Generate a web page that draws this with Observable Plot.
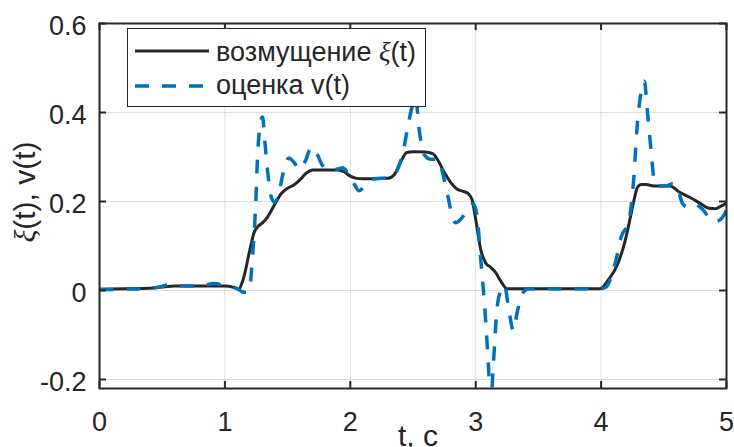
<!DOCTYPE html>
<html>
<head>
<meta charset="utf-8">
<script src="https://cdn.jsdelivr.net/npm/d3@7"></script>
<script src="https://cdn.jsdelivr.net/npm/@observablehq/plot@0.6"></script>
<style>
  html, body { margin: 0; padding: 0; background: #fff; }
  #chart { position: relative; width: 734px; height: 447px; overflow: hidden;
           font-family: "Liberation Sans", Arial, sans-serif; color: #262626; }
  #chart > svg { display: block; }
  #legend { position: absolute; left: 127px; top: 28px; }
</style>
</head>
<body>
<div id="chart"></div>
<script>
// Disturbance ξ(t): time samples and values
const xiT = [0, 0.2, 0.4, 0.5, 0.6, 0.8, 1.0, 1.07, 1.11, 1.14, 1.164, 1.19, 1.21, 1.23, 1.26, 1.30,
  1.34, 1.39, 1.45, 1.50, 1.55, 1.60, 1.65, 1.70, 1.80, 1.90, 1.95, 2.00, 2.05, 2.10, 2.20, 2.30,
  2.35, 2.40, 2.45, 2.50, 2.60, 2.66, 2.70, 2.75, 2.80, 2.85, 2.90, 2.94, 2.97, 3.00, 3.04, 3.08,
  3.12, 3.16, 3.20, 3.25, 3.40, 3.70, 3.99, 4.06, 4.13, 4.19, 4.23, 4.26, 4.29, 4.32, 4.36, 4.42,
  4.55, 4.62, 4.71, 4.79, 4.86, 4.91, 4.96, 5.0];
const xiV = [0.003, 0.004, 0.005, 0.008, 0.010, 0.010, 0.010, 0.007, 0.003, 0.02, 0.045, 0.08, 0.105, 0.128, 0.143, 0.152,
  0.165, 0.19, 0.218, 0.23, 0.237, 0.249, 0.264, 0.271, 0.271, 0.271, 0.267, 0.257, 0.252, 0.251, 0.251, 0.252,
  0.26, 0.288, 0.31, 0.312, 0.311, 0.307, 0.292, 0.265, 0.243, 0.228, 0.223, 0.218, 0.205, 0.16, 0.092, 0.062,
  0.052, 0.04, 0.021, 0.004, 0.004, 0.004, 0.004, 0.025, 0.058, 0.11, 0.16, 0.2, 0.232, 0.238, 0.238, 0.235,
  0.235, 0.222, 0.209, 0.196, 0.185, 0.184, 0.19, 0.196];

// Estimate v(t): time samples and values
const vT = [0, 0.2, 0.4, 0.5, 0.56, 0.62, 0.8, 0.92, 0.98, 1.05, 1.10, 1.15, 1.18, 1.20, 1.22, 1.245,
  1.26, 1.28, 1.30, 1.32, 1.34, 1.37, 1.40, 1.43, 1.47, 1.51, 1.55, 1.60, 1.64, 1.69, 1.73, 1.77,
  1.81, 1.88, 1.94, 1.98, 2.03, 2.07, 2.12, 2.17, 2.25, 2.32, 2.37, 2.42, 2.46, 2.49, 2.52, 2.55,
  2.59, 2.64, 2.70, 2.74, 2.78, 2.81, 2.84, 2.88, 2.93, 2.98, 3.01, 3.04, 3.07, 3.10, 3.12, 3.14,
  3.17, 3.20, 3.23, 3.26, 3.30, 3.33, 3.37, 3.42, 3.70, 3.99, 4.04, 4.08, 4.12, 4.16, 4.22, 4.24,
  4.26, 4.285, 4.31, 4.345, 4.37, 4.40, 4.425, 4.45, 4.52, 4.57, 4.61, 4.65, 4.69, 4.74, 4.80, 4.86,
  4.91, 4.96, 5.0];
const vV = [0.002, 0.003, 0.005, 0.009, 0.014, 0.011, 0.010, 0.016, 0.012, 0.009, 0.004, -0.004, -0.004, 0.01, 0.075, 0.19,
  0.30, 0.37, 0.39, 0.33, 0.27, 0.21, 0.198, 0.22, 0.27, 0.298, 0.288, 0.272, 0.29, 0.322, 0.31, 0.285,
  0.272, 0.272, 0.276, 0.264, 0.24, 0.224, 0.237, 0.25, 0.252, 0.254, 0.268, 0.31, 0.37, 0.41, 0.435, 0.36,
  0.305, 0.295, 0.295, 0.26, 0.21, 0.17, 0.152, 0.16, 0.178, 0.195, 0.17, 0.07, -0.03, -0.16, -0.25, -0.17,
  -0.04, 0.0, 0.012, -0.035, -0.09, -0.05, -0.008, 0.004, 0.004, 0.004, 0.008, 0.03, 0.07, 0.12, 0.155, 0.19,
  0.25, 0.36, 0.43, 0.47, 0.40, 0.31, 0.245, 0.236, 0.235, 0.24, 0.23, 0.195, 0.188, 0.195, 0.185, 0.165,
  0.155, 0.162, 0.18];

const xTicks = [0, 1, 2, 3, 4, 5];
const yTicks = [-0.2, 0, 0.2, 0.4, 0.6];
const xLabel = "t, c";
const yLabelParts = ["ξ", "(t), v(t)"];
const yLabel = yLabelParts.join("");
const legendNames = [["возмущение ", "ξ", "(t)"], ["оценка v(t)", "", ""]];

const ink = "#262626";
const blue = "#0072BD";
const dash = "14,13";

const W = 734, H = 447;
const mL = 99, mR = 8, mT = 23, mB = 59;
const pw = W - mL - mR, ph = H - mT - mB;
const tick = 7;

const xi = xiT.map((t, i) => ({t, v: xiV[i]}));
const est = vT.map((t, i) => ({t, v: vV[i]}));

const fmt = d => String(d);

const plot = Plot.plot({
  width: W, height: H,
  marginLeft: mL, marginRight: mR, marginTop: mT, marginBottom: mB,
  style: {fontFamily: "'Liberation Sans', Arial, sans-serif", color: ink, background: "#fff", overflow: "visible"},
  x: {domain: [0, 5]},
  y: {domain: [-0.2202, 0.6]},
  marks: [
    Plot.gridX(xTicks, {stroke: ink, strokeOpacity: 0.15, strokeWidth: 1}),
    Plot.gridY(yTicks, {stroke: ink, strokeOpacity: 0.15, strokeWidth: 1}),
    Plot.lineY(xi, {x: "t", y: "v", stroke: ink, strokeWidth: 3, curve: "monotone-x", clip: true}),
    Plot.lineY(est, {x: "t", y: "v", stroke: blue, strokeWidth: 3.5, strokeDasharray: dash,
      strokeLinecap: "butt", curve: "monotone-x", clip: true}),
    Plot.frame({stroke: ink, strokeWidth: 2}),
    // inward tick marks on all four sides
    Plot.tickX(xTicks, {x: d => d, insetTop: ph - tick, stroke: ink, strokeWidth: 2}),
    Plot.tickX(xTicks, {x: d => d, insetBottom: ph - tick, stroke: ink, strokeWidth: 2}),
    Plot.tickY(yTicks, {y: d => d, insetRight: pw - tick, stroke: ink, strokeWidth: 2}),
    Plot.tickY(yTicks, {y: d => d, insetLeft: pw - tick, stroke: ink, strokeWidth: 2}),
    Plot.axisX(xTicks, {tickSize: 0, tickPadding: 23.5, fontSize: 27, label: null, tickFormat: fmt, fill: ink}),
    Plot.axisY(yTicks, {tickSize: 0, tickPadding: 13, fontSize: 27, label: null, tickFormat: fmt, dy: 3, fill: ink}),
    Plot.text([xLabel], {text: d => d, frameAnchor: "bottom", textAnchor: "middle", lineAnchor: "top",
      dy: 36, dx: 5, fontSize: 30, fill: ink}),
    Plot.text([yLabel], {text: d => d, frameAnchor: "left", textAnchor: "middle", rotate: -90,
      dx: -74, dy: -14, fontSize: 30, fill: ink})
  ]
});

// y label: centred on its anchor, with the Greek ξ in italic serif as in TeX-style labels
d3.select(plot).selectAll("text")
  .filter(function () { return this.textContent === yLabel; })
  .each(function () {
    const t = d3.select(this).attr("text-anchor", "middle");
    t.text(null);
    t.append("tspan").attr("font-family", "'Liberation Serif', serif").attr("font-style", "italic").text(yLabelParts[0]);
    t.append("tspan").text(yLabelParts[1]);
  });

const chart = document.getElementById("chart");
chart.appendChild(plot);

// Legend box
const lg = d3.select(chart).append("svg")
  .attr("id", "legend").attr("width", 300).attr("height", 80)
  .style("font-family", "'Liberation Sans', Arial, sans-serif");
lg.append("rect").attr("x", 0.5).attr("y", 0.5).attr("width", 298).attr("height", 78)
  .attr("fill", "#fff").attr("stroke", ink).attr("stroke-width", 1);
const rows = [
  {y: 23, base: 33, stroke: ink, width: 3, dash: null, parts: legendNames[0]},
  {y: 58, base: 65.5, stroke: blue, width: 3.5, dash: dash, parts: legendNames[1]}
];
rows.forEach(r => {
  lg.append("line").attr("x1", 8).attr("x2", 82).attr("y1", r.y).attr("y2", r.y)
    .attr("stroke", r.stroke).attr("stroke-width", r.width).attr("stroke-dasharray", r.dash);
  const t = lg.append("text").attr("x", 89).attr("y", r.base).attr("font-size", 27).attr("fill", ink);
  t.append("tspan").text(r.parts[0]);
  if (r.parts[1]) t.append("tspan").attr("font-family", "'Liberation Serif', serif").attr("font-style", "italic").text(r.parts[1]);
  if (r.parts[2]) t.append("tspan").text(r.parts[2]);
});
</script>
</body>
</html>
